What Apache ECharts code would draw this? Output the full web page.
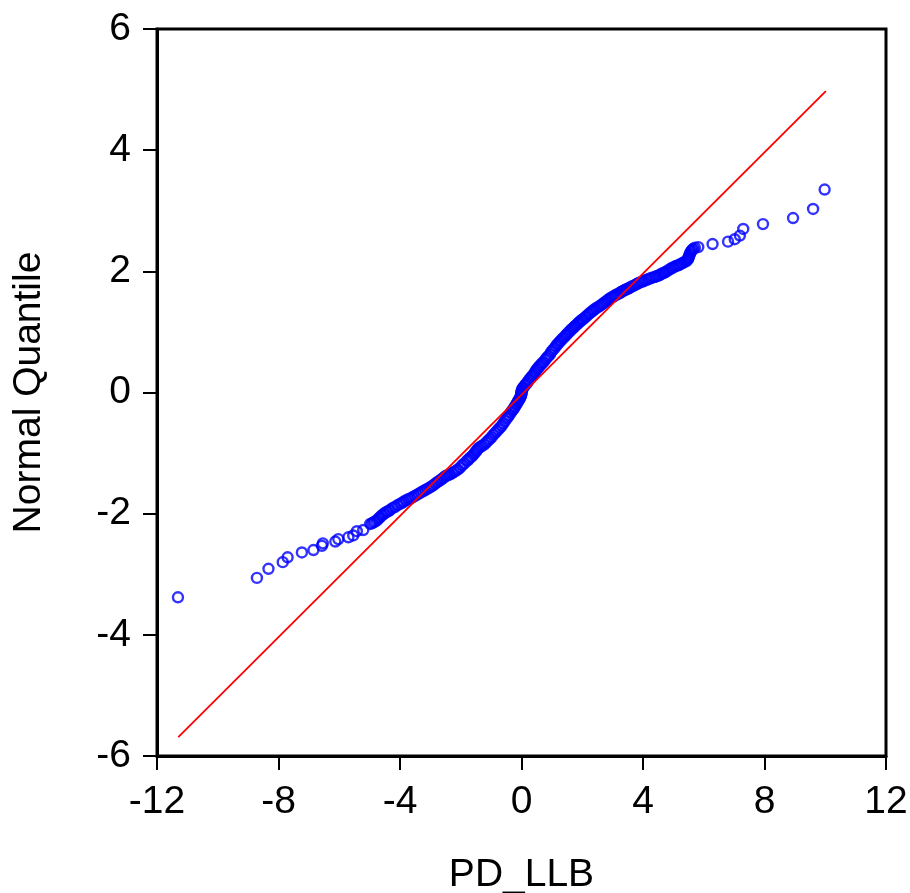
<!DOCTYPE html>
<html>
<head>
    <meta charset="utf-8">
    <title>PD_LLB Q-Q</title>
    <script src="https://cdn.jsdelivr.net/npm/echarts@6/dist/echarts.min.js"></script>
    <style>
        html, body { margin: 0; padding: 0; background: #fff; }
        #chart { width: 910px; height: 893px; }
    </style>
</head>
<body>
    <div id="chart"></div>
    <script>
        // [PD_LLB quantile, normal quantile]
        var leftTail = [[-11.31, -3.38], [-8.71, -3.06], [-8.33, -2.91], [-7.86, -2.80], [-7.70, -2.72], [-7.23, -2.64],
            [-6.85, -2.60], [-6.57, -2.53], [-6.54, -2.49], [-6.13, -2.46], [-6.03, -2.42], [-5.70, -2.39],
            [-5.54, -2.36], [-5.42, -2.29], [-5.21, -2.27]];
        var band = [
            [-4.98, -2.17], [-4.92, -2.16], [-4.87, -2.14], [-4.82, -2.13], [-4.76, -2.11], [-4.71, -2.08], [-4.66, -2.06],
            [-4.60, -2.03], [-4.55, -2.01], [-4.50, -1.99], [-4.44, -1.97], [-4.39, -1.96], [-4.33, -1.94], [-4.25, -1.91],
            [-4.17, -1.89], [-4.08, -1.86], [-4.00, -1.84], [-3.93, -1.82], [-3.87, -1.80], [-3.80, -1.78], [-3.73, -1.76],
            [-3.66, -1.75], [-3.59, -1.73], [-3.52, -1.71], [-3.45, -1.69], [-3.38, -1.67], [-3.31, -1.65], [-3.24, -1.63],
            [-3.17, -1.61], [-3.10, -1.59], [-3.03, -1.57], [-2.96, -1.55], [-2.90, -1.53], [-2.83, -1.50], [-2.77, -1.48],
            [-2.71, -1.46], [-2.65, -1.44], [-2.60, -1.42], [-2.55, -1.40], [-2.50, -1.38], [-2.46, -1.37], [-2.40, -1.36],
            [-2.35, -1.35], [-2.28, -1.33], [-2.22, -1.31], [-2.15, -1.29], [-2.09, -1.27], [-2.02, -1.24], [-1.95, -1.20],
            [-1.88, -1.17], [-1.80, -1.13], [-1.75, -1.11], [-1.70, -1.08], [-1.64, -1.06], [-1.59, -1.03], [-1.54, -1.00],
            [-1.50, -0.97], [-1.46, -0.95], [-1.42, -0.92], [-1.36, -0.90], [-1.30, -0.88], [-1.23, -0.86], [-1.17, -0.83],
            [-1.11, -0.80], [-1.05, -0.77], [-0.99, -0.74], [-0.93, -0.70], [-0.87, -0.67], [-0.82, -0.64], [-0.76, -0.61],
            [-0.71, -0.58], [-0.65, -0.55], [-0.60, -0.51], [-0.54, -0.47], [-0.49, -0.43], [-0.44, -0.40], [-0.40, -0.37],
            [-0.35, -0.33], [-0.31, -0.30], [-0.27, -0.28], [-0.24, -0.25], [-0.21, -0.23], [-0.18, -0.20], [-0.15, -0.18],
            [-0.12, -0.15], [-0.10, -0.13], [-0.08, -0.12], [-0.06, -0.10], [-0.04, -0.08], [-0.03, -0.07], [-0.02, -0.05],
            [-0.01, -0.04], [0.00, -0.02], [0.00, 0.00], [0.00, 0.01], [0.01, 0.03], [0.02, 0.05], [0.04, 0.07],
            [0.06, 0.08], [0.10, 0.11], [0.13, 0.13], [0.17, 0.15], [0.21, 0.18], [0.25, 0.21], [0.30, 0.24],
            [0.35, 0.27], [0.39, 0.29], [0.43, 0.32], [0.46, 0.35], [0.50, 0.38], [0.54, 0.40], [0.58, 0.43],
            [0.63, 0.45], [0.67, 0.48], [0.72, 0.50], [0.78, 0.54], [0.83, 0.57], [0.88, 0.60], [0.94, 0.63],
            [0.98, 0.67], [1.03, 0.70], [1.08, 0.73], [1.13, 0.76], [1.17, 0.79], [1.21, 0.81], [1.26, 0.84],
            [1.30, 0.86], [1.35, 0.89], [1.40, 0.91], [1.45, 0.94], [1.49, 0.96], [1.54, 0.99], [1.59, 1.01],
            [1.64, 1.04], [1.69, 1.06], [1.73, 1.08], [1.77, 1.10], [1.82, 1.12], [1.86, 1.14], [1.90, 1.16],
            [1.94, 1.18], [1.99, 1.20], [2.03, 1.21], [2.09, 1.24], [2.14, 1.26], [2.20, 1.29], [2.25, 1.31],
            [2.30, 1.33], [2.35, 1.35], [2.40, 1.37], [2.45, 1.39], [2.52, 1.41], [2.58, 1.43], [2.64, 1.45],
            [2.69, 1.47], [2.75, 1.49], [2.80, 1.51], [2.85, 1.53], [2.90, 1.55], [2.96, 1.57], [3.01, 1.58],
            [3.07, 1.60], [3.12, 1.61], [3.18, 1.63], [3.24, 1.64], [3.28, 1.66], [3.32, 1.67], [3.36, 1.68],
            [3.40, 1.69], [3.44, 1.70], [3.48, 1.71], [3.53, 1.72], [3.57, 1.73], [3.63, 1.75], [3.69, 1.76],
            [3.75, 1.78], [3.80, 1.79], [3.86, 1.81], [3.92, 1.82], [3.98, 1.83], [4.03, 1.84], [4.11, 1.86],
            [4.19, 1.87], [4.26, 1.89], [4.34, 1.90], [4.40, 1.91], [4.45, 1.92], [4.51, 1.93], [4.56, 1.94],
            [4.61, 1.96], [4.66, 1.97], [4.71, 1.98], [4.75, 1.99], [4.81, 2.01], [4.87, 2.03], [4.93, 2.05],
            [4.99, 2.06], [5.05, 2.08], [5.10, 2.09], [5.16, 2.10], [5.21, 2.11], [5.27, 2.13], [5.32, 2.14],
            [5.38, 2.16], [5.43, 2.17], [5.46, 2.19], [5.48, 2.20], [5.50, 2.22], [5.51, 2.24], [5.53, 2.27],
            [5.55, 2.29], [5.57, 2.32], [5.60, 2.34], [5.63, 2.36], [5.66, 2.37], [5.71, 2.39]];
        var rightTail = [[5.82, 2.40], [6.29, 2.45], [6.80, 2.49], [7.02, 2.53], [7.19, 2.59], [7.30, 2.70],
            [7.95, 2.78], [8.94, 2.88], [9.60, 3.03], [9.98, 3.35]];
        // fitted reference line, two ends
        var refLine = [[-11.30, -5.69], [10.02, 4.975]];
        var xRange = [-12, 12];
        var yRange = [-6, 6];

        var points = leftTail.concat(band, rightTail);

        var font = 'Liberation Sans, Arial, sans-serif';
        var chart = echarts.init(document.getElementById('chart'));
        var option = {
            animation: false,
            backgroundColor: '#fff',
            grid: {
                left: 157,
                right: 24,
                top: 29,
                bottom: 137,
                outerBoundsMode: 'none',
                show: true,
                borderColor: '#000',
                borderWidth: 3
            },
            xAxis: {
                type: 'value',
                min: xRange[0],
                max: xRange[1],
                interval: 4,
                name: 'PD_LLB',
                nameLocation: 'middle',
                nameGap: 100,
                nameTextStyle: { color: '#000', fontSize: 39, fontFamily: font },
                axisLine: { show: true, onZero: false, lineStyle: { color: '#000', width: 3 } },
                axisTick: { show: true, length: 14, lineStyle: { color: '#000', width: 2 } },
                axisLabel: { color: '#000', fontSize: 39, fontFamily: font, margin: 27 },
                splitLine: { show: false }
            },
            yAxis: {
                type: 'value',
                min: yRange[0],
                max: yRange[1],
                interval: 2,
                name: 'Normal Quantile',
                nameLocation: 'middle',
                nameGap: 108,
                nameTextStyle: { color: '#000', fontSize: 39, fontFamily: font },
                axisLine: { show: true, onZero: false, lineStyle: { color: '#000', width: 3 } },
                axisTick: { show: true, length: 14, lineStyle: { color: '#000', width: 2 } },
                axisLabel: { color: '#000', fontSize: 39, fontFamily: font, margin: 26 },
                splitLine: { show: false }
            },
            series: [{
                type: 'scatter',
                data: points,
                symbol: 'circle',
                symbolSize: 10,
                itemStyle: { color: 'rgba(0,0,0,0)', borderColor: '#0000ff', borderWidth: 2.4 },
                z: 2
            }, {
                type: 'line',
                data: refLine,
                showSymbol: false,
                lineStyle: { color: '#ff0000', width: 1.8 },
                z: 3
            }]
        };
        chart.setOption(option);
    </script>
</body>
</html>
